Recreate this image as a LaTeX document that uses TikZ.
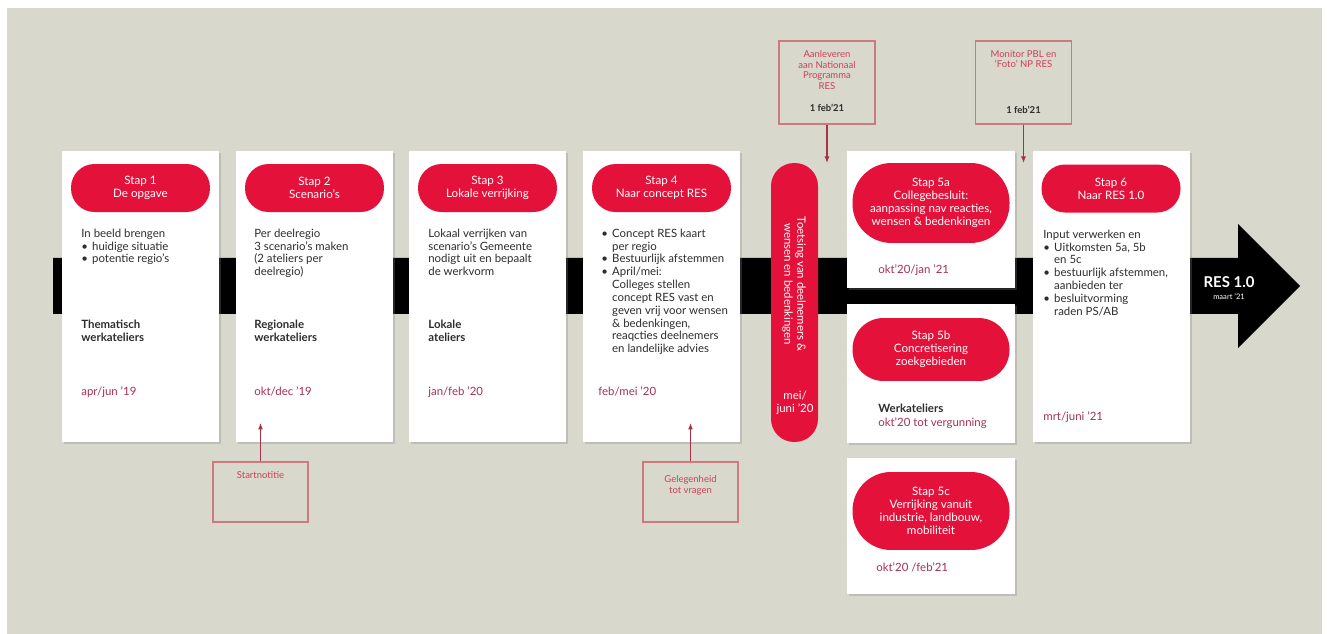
\documentclass[tikz,border=0pt]{standalone}
\usepackage{fontspec}
\setmainfont{Lato}
\usepackage{tikz}
\usetikzlibrary{arrows.meta, positioning, shadows}
\definecolor{bgcolor}{RGB}{216,217,204}
\definecolor{stepred}{RGB}{228,18,58}
\definecolor{datecolor}{RGB}{165,48,85}
\definecolor{notecolor}{RGB}{206,62,86}
\definecolor{noteline}{RGB}{204,122,128}
\definecolor{textgray}{RGB}{45,45,45}
\newcommand{\bulit}{\makebox[0.95em][l]{\textbullet}}
\newcommand{\bulind}{\hspace*{0.95em}}

\begin{document}
\begin{tikzpicture}[
    x=0.02cm, y=-0.02cm,
    card/.style={fill=white, minimum width=3.14cm, minimum height=5.82cm, inner sep=0pt, drop shadow={shadow xshift=1.2pt, shadow yshift=-1.2pt, opacity=0.3}},
    pill/.style={fill=stepred, rounded corners=0.47cm, minimum width=2.78cm, minimum height=0.96cm, inner sep=0pt, align=center, text=white, font=\fontsize{6.6}{7.4}\selectfont},
    body/.style={anchor=north west, inner sep=0pt, align=left, text=textgray, font=\fontsize{6.5}{7.3}\selectfont},
    bold/.style={body, font=\fontsize{6.5}{7.3}\selectfont\bfseries},
    datetext/.style={body, text=datecolor},
    note/.style={draw=noteline, line width=0.6pt, minimum width=1.92cm, inner sep=0pt},
    notetext/.style={inner sep=0pt, align=center, text=notecolor, font=\fontsize{5.4}{6.1}\selectfont},
    notedate/.style={inner sep=0pt, text=textgray, font=\fontsize{5.4}{6.1}\selectfont\bfseries},
    pointer/.style={-{Latex[length=1.3mm, width=1mm]}, draw=notecolor!80!black, line width=0.6pt}
]
    % Background
    \fill[white] (0,0) rectangle (1327,634);
    \fill[bgcolor] (7,8) rectangle (1322,634);

    % Timeline arrow
    \fill[black] (53,258) -- (1238,258) -- (1238,224) -- (1300,286) -- (1238,348) -- (1238,314) -- (53,314) -- cycle;
    \node[inner sep=0pt, text=white, font=\fontsize{8.5}{9}\selectfont\bfseries] (res) at (1229,282) {RES 1.0};
    \node[inner sep=0pt, text=white, font=\fontsize{4.3}{5}\selectfont] (resdate) at (1229,297) {maart '21};

    % Cards
    \node[card] (c1) at (140.5,296.5) {};
    \node[card] (c2) at (314.5,296.5) {};
    \node[card] (c3) at (487.5,296.5) {};
    \node[card] (c4) at (661.5,296.5) {};
    \node[card, minimum width=3.36cm, minimum height=2.74cm] (c5a) at (931,219.5) {};
    \node[card, minimum width=3.36cm, minimum height=2.78cm] (c5b) at (931,373.5) {};
    \node[card, minimum width=3.36cm, minimum height=2.72cm] (c5c) at (931,526) {};
    \node[card] (c6) at (1111,296.5) {};

    % Step pills
    \node[pill, below=0.26cm of c1.north] (p1) {Stap 1\\De opgave};
    \node[pill, below=0.26cm of c2.north] (p2) {Stap 2\\Scenario's};
    \node[pill, below=0.26cm of c3.north] (p3) {Stap 3\\Lokale verrijking};
    \node[pill, below=0.26cm of c4.north] (p4) {Stap 4\\Naar concept RES};
    \node[pill, minimum width=3.14cm, minimum height=1.6cm, rounded corners=0.78cm, below=0.24cm of c5a.north] (p5a) {Stap 5a\\Collegebesluit:\\aanpassing nav reacties,\\wensen \& bedenkingen};
    \node[pill, minimum width=3.14cm, minimum height=1.26cm, rounded corners=0.62cm, below=0.28cm of c5b.north] (p5b) {Stap 5b\\Concretisering\\zoekgebieden};
    \node[pill, minimum width=3.14cm, minimum height=1.56cm, rounded corners=0.77cm, below=0.28cm of c5c.north] (p5c) {Stap 5c\\Verrijking vanuit\\industrie, landbouw,\\mobiliteit};
    \node[pill, below=0.27cm of c6.north] (p6) {Stap 6\\Naar RES 1.0};

    % Toetsing pill
    \node[pill, minimum width=0.94cm, minimum height=5.58cm, rounded corners=0.46cm] (toets) at (794.5,302.5) {};
    \node[inner sep=0pt, align=center, text=white, font=\fontsize{6.5}{7.4}\selectfont, rotate=-90] (toetstxt) at (794,284) {Toetsing van deelnemers \&\\wensen en bedenkingen};
    \node[inner sep=0pt, align=center, text=white, font=\fontsize{6.5}{7.3}\selectfont] (toetsdate) at (795,403) {mei/\\juni '20};

    % Card texts
    \node[body] (t1) at (81,228.5) {In beeld brengen\\\bulit huidige situatie\\\bulit potentie regio's};
    \node[bold] (w1) at (81,319.5) {Thematisch\\werkateliers};
    \node[datetext] (d1) at (81,386) {apr/jun '19};

    \node[body] (t2) at (254,228.5) {Per deelregio\\3 scenario's maken\\(2 ateliers per\\deelregio)};
    \node[bold] (w2) at (254,319.5) {Regionale\\werkateliers};
    \node[datetext] (d2) at (254,386) {okt/dec '19};

    \node[body] (t3) at (428,228.5) {Lokaal verrijken van\\scenario's Gemeente\\nodigt uit en bepaalt\\de werkvorm};
    \node[bold] (w3) at (428,319.5) {Lokale\\ateliers};
    \node[datetext] (d3) at (428,386) {jan/feb '20};

    \node[body] (t4) at (601,228.5) {\bulit Concept RES kaart\\\bulind per regio\\\bulit Bestuurlijk afstemmen\\\bulit April/mei:\\\bulind Colleges stellen\\\bulind concept RES vast en\\\bulind geven vrij voor wensen\\\bulind \& bedenkingen,\\\bulind reaqcties deelnemers\\\bulind en landelijke advies};
    \node[datetext] (d4) at (598,386) {feb/mei '20};

    \node[datetext] (d5a) at (878,264.5) {okt'20/jan '21};
    \node[bold] (w5b) at (878,403.5) {Werkateliers};
    \node[datetext] (d5b) at (878,417.5) {okt'20 tot vergunning};
    \node[datetext] (d5c) at (876,562.5) {okt'20 /feb'21};

    \node[body] (t6) at (1043,229.5) {Input verwerken en\\\bulit Uitkomsten 5a, 5b\\\bulind en 5c\\\bulit bestuurlijk afstemmen,\\\bulind aanbieden ter\\\bulit besluitvorming\\\bulind raden PS/AB};
    \node[datetext] (d6) at (1043,411.5) {mrt/juni '21};

    % Notes
    \node[note, minimum height=1.66cm] (aanl) at (827,82.5) {};
    \node[notetext, below=0.19cm of aanl.north] (aanltxt) {Aanleveren\\aan Nationaal\\Programma\\RES};
    \node[notedate] (aanldate) at (827,108) {1 feb'21};

    \node[note, minimum height=1.66cm] (monitor) at (1023.5,82.5) {};
    \node[notetext, below=0.19cm of monitor.north] (monitortxt) {Monitor PBL en\\`Foto' NP RES};
    \node[notedate] (monitordate) at (1023.5,110) {1 feb'21};

    \node[note, minimum width=1.9cm, minimum height=1.2cm] (startn) at (260.5,492) {};
    \node[notetext, below=0.19cm of startn.north] (startntxt) {Startnotitie};

    \node[note, minimum width=1.9cm, minimum height=1.2cm] (gelegen) at (690.5,492) {};
    \node[notetext, below=0.27cm of gelegen.north] (gelegentxt) {Gelegenheid\\tot vragen};

    % Pointers
    \coordinate (aanlend) at (827,163);
    \coordinate (monitorend) at (1023.5,163);
    \coordinate (startnend) at (260.5,423);
    \coordinate (gelegenend) at (690.5,423);
    \draw[pointer] (aanl) -- (aanlend);
    \draw[pointer] (monitor) -- (monitorend);
    \draw[pointer] (startn) -- (startnend);
    \draw[pointer] (gelegen) -- (gelegenend);
\end{tikzpicture}
\end{document}
